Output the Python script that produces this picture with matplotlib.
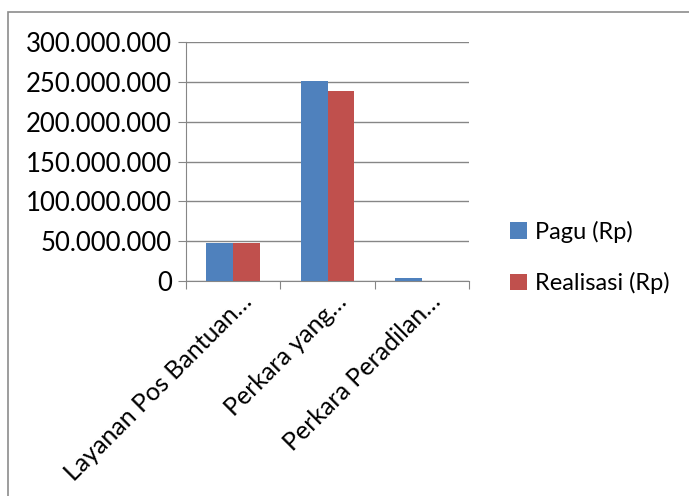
import numpy as np
import matplotlib.pyplot as plt
import matplotlib.transforms as mtransforms
from matplotlib.patches import Rectangle
from matplotlib.ticker import FuncFormatter

categories = ['Layanan Pos Bantuan…', 'Perkara yang…', 'Perkara Peradilan…']
pagu = [47700000, 251300000, 3800000]
realisasi = [47500000, 238700000, 600000]
series_names = ['Pagu (Rp)', 'Realisasi (Rp)']
colors = ['#4F81BD', '#C0504D']

plt.rcParams['font.family'] = ['Lato', 'DejaVu Sans']

fig = plt.figure(figsize=(6.89, 4.96), dpi=100)
fig.patches.append(Rectangle((8/689, -0.05), 1.1, 1-12/496+0.05, transform=fig.transFigure,
                             fill=False, edgecolor='#8c8c8c', linewidth=1.2))
ax = fig.add_axes([186/689, 1-281/496, (469-186)/689, (281-42)/496])

x = np.arange(len(categories))
w = 0.283
ax.bar(x - w/2, pagu, w, color=colors[0], label=series_names[0], zorder=3)
ax.bar(x + w/2, realisasi, w, color=colors[1], label=series_names[1], zorder=3)

ax.set_xlim(-0.5, len(categories) - 0.5)
ax.set_ylim(0, 300000000)
ax.set_yticks(np.arange(0, 300000001, 50000000))
ax.yaxis.set_major_formatter(FuncFormatter(lambda v, p: f'{int(v):,}'.replace(',', '.')))
ax.grid(axis='y', color='#868686', linewidth=1, zorder=0)
ax.set_axisbelow(True)

for s in ['top', 'right']:
    ax.spines[s].set_visible(False)
for s in ['left', 'bottom']:
    ax.spines[s].set_color('#868686')

ax.set_xticks(np.arange(-0.5, len(categories)), minor=False)
ax.set_xticklabels([])
ax.set_xticks(x, minor=True)
ax.set_xticklabels(categories, minor=True, rotation=45, ha='right', va='center',
                   rotation_mode='anchor', fontsize=18)
ax.tick_params(axis='x', which='major', length=6, color='#868686', direction='out')
ax.tick_params(axis='x', which='minor', length=0, pad=12)
ax.tick_params(axis='y', length=6, color='#868686', labelsize=18.5, pad=4)
offset = mtransforms.ScaledTranslation(15/100, 0, fig.dpi_scale_trans)
for lbl in ax.get_xticklabels(minor=True):
    lbl.set_transform(lbl.get_transform() + offset)

ax.legend(loc='center left', bbox_to_anchor=(1.07, 0.098), frameon=False, fontsize=17,
          handlelength=0.7, handleheight=0.7, handletextpad=0.35, labelspacing=1.25)

fig.savefig('out.png', dpi=100)
